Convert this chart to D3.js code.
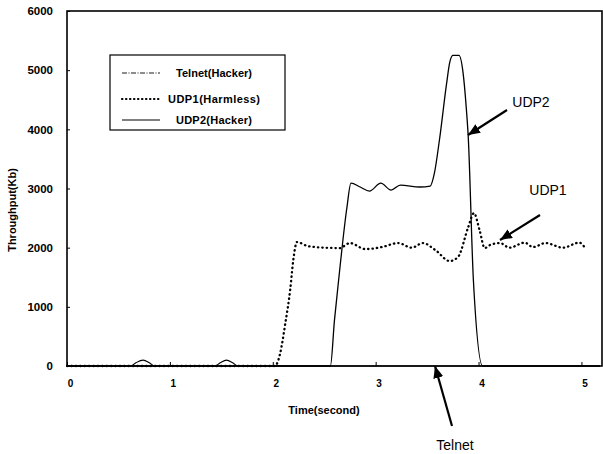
<!DOCTYPE html>
<html>
<head>
<meta charset="utf-8">
<script src="https://cdn.jsdelivr.net/npm/d3@7"></script>
<style>
  body { margin: 0; background: #fff; }
  text { font-family: "Liberation Sans", Arial, sans-serif; fill: #000; }
</style>
</head>
<body>
<svg id="chart" width="603" height="454"></svg>
<script>
// time (s), throughput (Kb)
const telnet = [
  [0, 0], [0.62, 0], [0.67, 55], [0.74, 100], [0.8, 55], [0.85, 0],
  [1.44, 0], [1.49, 55], [1.55, 100], [1.61, 55], [1.66, 0], [5.18, 0]
];
const udp1 = [
  [0, 0], [2.02, 0], [2.07, 200], [2.12, 700], [2.17, 1300], [2.2, 1800], [2.235, 2095],
  [2.34, 2027], [2.5, 2000], [2.65, 1993], [2.75, 2078], [2.9, 1976], [3.06, 2010],
  [3.22, 2078], [3.35, 2000], [3.46, 2078], [3.58, 1960], [3.72, 1774], [3.8, 1841],
  [3.9, 2348], [3.955, 2584], [4.01, 2297], [4.06, 1993], [4.11, 2044], [4.21, 2078],
  [4.3, 2000], [4.45, 2085], [4.53, 2010], [4.65, 2078], [4.82, 2000], [4.98, 2085], [5.03, 2010]
];
const udp2 = [
  [0, 0], [2.51, 0], [2.56, 0], [2.6, 780], [2.64, 1450], [2.72, 2670], [2.76, 3090],
  [2.85, 3025], [2.94, 2956], [3.05, 3090], [3.15, 2973], [3.24, 3057], [3.43, 3025], [3.53, 3040],
  [3.57, 3250], [3.62, 3820], [3.69, 4780], [3.72, 5130], [3.75, 5250], [3.81, 5250],
  [3.85, 4950], [3.88, 4380], [3.9, 3870], [3.95, 1450], [4.04, 0], [5.18, 0]
];
const xTicks = [0, 1, 2, 3, 4, 5];
const yTicks = [0, 1000, 2000, 3000, 4000, 5000, 6000];
const legendItems = [
  { name: "Telnet(Hacker)", dash: "5,1.5,1,1.5", width: 0.9, cap: "butt" },
  { name: "UDP1(Harmless)", dash: "0.4,3.6", width: 2.2, cap: "round" },
  { name: "UDP2(Hacker)", dash: null, width: 1.2, cap: "butt" }
];

const svg = d3.select("#chart");
const plot = { left: 67, right: 602, top: 11, bottom: 366 };

const x = d3.scaleLinear().domain([0, 5.2]).range([plot.left, plot.right]);
const y = d3.scaleLinear().domain([0, 6000]).range([plot.bottom, plot.top]);

// axes
svg.append("g")
  .attr("transform", `translate(0,${plot.bottom})`)
  .call(d3.axisBottom(x).tickValues(xTicks).tickFormat(d3.format("d"))
    .tickSize(-4).tickPadding(14).tickSizeOuter(0))
  .call(g => g.select(".domain").remove())
  .call(g => g.selectAll("text").attr("dx", 3).attr("font-size", 10).attr("font-weight", "bold"));

svg.append("g")
  .attr("transform", `translate(${plot.left},0)`)
  .call(d3.axisLeft(y).tickValues(yTicks).tickFormat(d3.format("d"))
    .tickSize(-3).tickPadding(14).tickSizeOuter(0))
  .call(g => g.select(".domain").remove())
  .call(g => g.selectAll("text").attr("font-size", 11.5).attr("font-weight", "bold"));

// series
const line = d3.line().x(d => x(d[0])).y(d => y(d[1])).curve(d3.curveMonotoneX);

svg.append("path").datum(telnet).attr("d", line)
  .attr("fill", "none").attr("stroke", "#000").attr("stroke-width", 1.1);
svg.append("path").datum(udp1).attr("d", line)
  .attr("fill", "none").attr("stroke", "#000").attr("stroke-width", 2.3)
  .attr("stroke-dasharray", "0.4,4").attr("stroke-linecap", "round");
svg.append("path").datum(udp2).attr("d", line)
  .attr("fill", "none").attr("stroke", "#000").attr("stroke-width", 1.3);

// frame
svg.append("rect")
  .attr("x", plot.left).attr("y", plot.top)
  .attr("width", plot.right - plot.left).attr("height", plot.bottom - plot.top)
  .attr("fill", "none").attr("stroke", "#000").attr("stroke-width", 1.6);

// legend
const lg = svg.append("g");
lg.append("rect").attr("x", 110).attr("y", 55).attr("width", 175).attr("height", 75)
  .attr("fill", "#fff").attr("stroke", "#000").attr("stroke-width", 1.2);
const rowY = [73, 99, 120];
legendItems.forEach((d, i) => {
  lg.append("line").attr("x1", 122).attr("x2", 160).attr("y1", rowY[i]).attr("y2", rowY[i])
    .attr("stroke", "#000").attr("stroke-width", d.width)
    .attr("stroke-dasharray", d.dash).attr("stroke-linecap", d.cap);
  lg.append("text").attr("x", 214).attr("y", rowY[i] + 4).attr("text-anchor", "middle")
    .attr("font-size", 11).attr("font-weight", "bold").attr("textLength", i === 1 ? 92 : 76)
    .text(d.name);
});

// titles
svg.append("text").attr("transform", "translate(16,210) rotate(-90)").attr("text-anchor", "middle")
  .attr("font-size", 11).attr("font-weight", "bold").text("Throughput(Kb)");
svg.append("text").attr("x", 324).attr("y", 414).attr("text-anchor", "middle")
  .attr("font-size", 11).attr("font-weight", "bold").text("Time(second)");

// annotations
const defs = svg.append("defs");
defs.append("marker").attr("id", "head").attr("viewBox", "0 0 12 10")
  .attr("refX", 12).attr("refY", 5).attr("markerWidth", 12).attr("markerHeight", 10)
  .attr("markerUnits", "userSpaceOnUse").attr("orient", "auto")
  .append("path").attr("d", "M0,0 L12,5 L0,10 Z").attr("fill", "#000");

const notes = [
  { label: "UDP2", tx: 531, ty: 107, from: [507, 110], to: [468, 135] },
  { label: "UDP1", tx: 548, ty: 195, from: [540, 215], to: [500, 240] },
  { label: "Telnet", tx: 455, ty: 450, from: [452, 426], to: [435, 366] }
];
notes.forEach(n => {
  svg.append("line").attr("x1", n.from[0]).attr("y1", n.from[1]).attr("x2", n.to[0]).attr("y2", n.to[1])
    .attr("stroke", "#000").attr("stroke-width", 2.2).attr("marker-end", "url(#head)");
  svg.append("text").attr("x", n.tx).attr("y", n.ty).attr("text-anchor", "middle")
    .attr("font-size", 14).text(n.label);
});
</script>
</body>
</html>
